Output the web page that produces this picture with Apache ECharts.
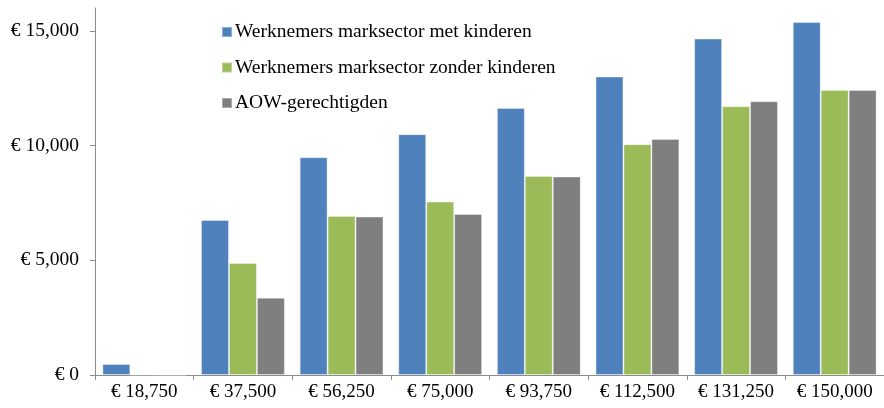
<!DOCTYPE html>
<html>
<head>
<meta charset="utf-8">
<script src="https://cdn.jsdelivr.net/npm/echarts@6/dist/echarts.min.js"></script>
<style>
  html, body { margin: 0; padding: 0; background: #fff; }
  #chart { width: 884px; height: 408px; }
</style>
</head>
<body>
<div id="chart"></div>
<script>
  // income levels (x-axis categories)
  const incomes = [18750, 37500, 56250, 75000, 93750, 112500, 131250, 150000]
  const yTicks = [0, 5000, 10000, 15000]

  const seriesNames = [
    'Werknemers marksector met kinderen',
    'Werknemers marksector zonder kinderen',
    'AOW-gerechtigden',
  ]
  const metKinderen = [480, 6760, 9495, 10500, 11645, 13010, 14665, 15385]
  const zonderKinderen = [15, 4885, 6935, 7560, 8680, 10060, 11720, 12430]
  const aow = [0, 3370, 6905, 7020, 8650, 10290, 11935, 12430]
  const colors = ['#4F81BD', '#9BBB59', '#7F7F7F']

  const fmt = (v) => '€ ' + Number(v).toLocaleString('en-US')
  const font = '"Liberation Serif", "DejaVu Serif", serif'
  const axisGray = '#8C8C8C'

  const chart = echarts.init(document.getElementById('chart'), null, { renderer: 'canvas' })

  const data = [metKinderen, zonderKinderen, aow]

  chart.setOption({
    animation: false,
    textStyle: { fontFamily: font },
    grid: { left: 95, right: 0, top: 8, bottom: 33, containLabel: false },
    legend: {
      orient: 'vertical',
      left: 216,
      top: 17,
      itemWidth: 10,
      itemHeight: 10,
      itemGap: 15.5,
      icon: 'rect',
      textStyle: { fontFamily: font, fontSize: 19.5, color: '#000', padding: [0, 0, 0, -2] },
      data: seriesNames,
    },
    xAxis: {
      type: 'category',
      data: incomes.map(fmt),
      boundaryGap: true,
      axisLine: { lineStyle: { color: axisGray, width: 1 } },
      axisTick: { show: true, length: 5, alignWithLabel: false, lineStyle: { color: axisGray } },
      axisLabel: { color: '#000', fontSize: 19, fontFamily: font, margin: 8, interval: 0 },
      splitLine: { show: false },
    },
    yAxis: {
      type: 'value',
      min: 0,
      max: 16000,
      axisLine: { show: true, lineStyle: { color: axisGray, width: 1 } },
      axisTick: { show: true, length: 5, customValues: yTicks, lineStyle: { color: axisGray } },
      axisLabel: {
        color: '#000',
        fontSize: 19.5,
        fontFamily: font,
        margin: 16,
        customValues: yTicks,
        formatter: fmt,
      },
      splitLine: { show: false },
    },
    series: seriesNames.map((name, i) => ({
      name,
      type: 'bar',
      data: data[i],
      barGap: '0%',
      barCategoryGap: '15%',
      itemStyle: { color: colors[i], borderColor: 'rgba(255,255,255,0.35)', borderWidth: 1 },
    })),
  })
</script>
</body>
</html>
